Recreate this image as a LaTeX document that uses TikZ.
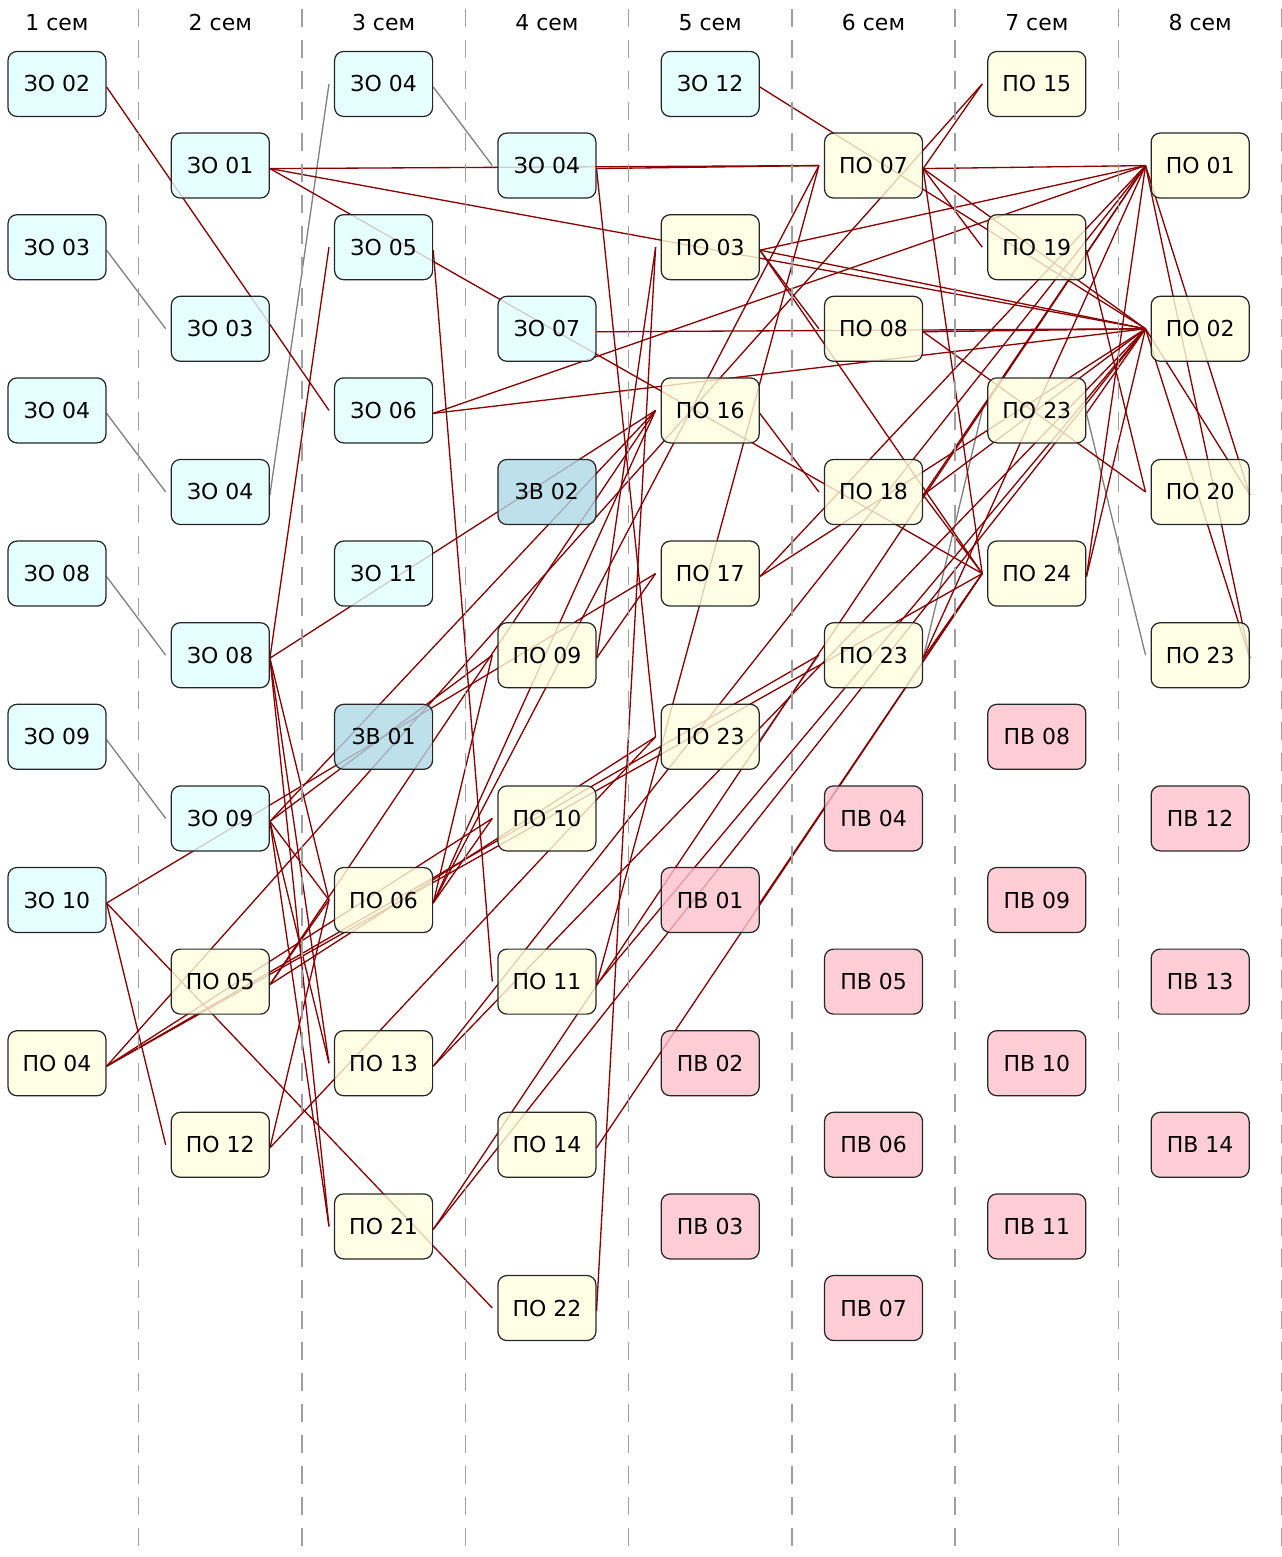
\documentclass[tikz,border=0pt]{standalone}
\usepackage{fontspec}
\setmainfont{DejaVu Sans}
\usepackage{xcolor}
\pgfdeclarelayer{back}
\pgfsetlayers{back,main}
\definecolor{linkred}{HTML}{8B0000}
\definecolor{zofill}{HTML}{E0FFFF}
\definecolor{zvfill}{HTML}{ADD8E6}
\definecolor{pofill}{HTML}{FFFFE0}
\definecolor{pvfill}{HTML}{FFC0CB}
\tikzset{
  course/.style={draw=black!85, line width=0.7pt, rounded corners=0.18cm,
    minimum width=1.96cm, minimum height=1.30cm, inner sep=0pt,
    fill opacity=0.8, text opacity=1, font=\fontsize{12.5}{15}\selectfont},
  zo/.style={course, fill=zofill},
  zv/.style={course, fill=zvfill},
  po/.style={course, fill=pofill},
  pv/.style={course, fill=pvfill},
  link/.style={linkred, line width=0.75pt},
  samelink/.style={gray, line width=0.75pt},
  semline/.style={gray!75, line width=0.8pt, dash pattern=on 0.36cm off 0.26cm},
  semhead/.style={font=\fontsize{12.5}{15}\selectfont},
}
\newcommand{\prereq}[3][link]{\draw[#1] ([yshift=-0.06cm]#2.east) -- ([xshift=-1mm]#3.west);}

\begin{document}
\begin{tikzpicture}[x=3.266cm, y=-1.632cm]
    \useasboundingbox (-0.349,-1.029) rectangle (7.501,18.051);
    % semesters
    \foreach \s in {1,...,8} {
      \node[semhead] at (\s-1,-0.75) {\s\ сем};
      \draw[semline] (\s-0.5,-0.92) -- (\s-0.5,18.051);
    }
    % 1 сем
    \node[zo] (s1zo02) at (0,0) {ЗО 02};
    \node[zo] (s1zo03) at (0,2) {ЗО 03};
    \node[zo] (s1zo04) at (0,4) {ЗО 04};
    \node[zo] (s1zo08) at (0,6) {ЗО 08};
    \node[zo] (s1zo09) at (0,8) {ЗО 09};
    \node[zo] (s1zo10) at (0,10) {ЗО 10};
    \node[po] (s1po04) at (0,12) {ПО 04};
    % 2 сем
    \node[zo] (s2zo01) at (1,1) {ЗО 01};
    \node[zo] (s2zo03) at (1,3) {ЗО 03};
    \node[zo] (s2zo04) at (1,5) {ЗО 04};
    \node[zo] (s2zo08) at (1,7) {ЗО 08};
    \node[zo] (s2zo09) at (1,9) {ЗО 09};
    \node[po] (s2po05) at (1,11) {ПО 05};
    \node[po] (s2po12) at (1,13) {ПО 12};
    % 3 сем
    \node[zo] (s3zo04) at (2,0) {ЗО 04};
    \node[zo] (s3zo05) at (2,2) {ЗО 05};
    \node[zo] (s3zo06) at (2,4) {ЗО 06};
    \node[zo] (s3zo11) at (2,6) {ЗО 11};
    \node[zv] (s3zv01) at (2,8) {ЗВ 01};
    \node[po] (s3po06) at (2,10) {ПО 06};
    \node[po] (s3po13) at (2,12) {ПО 13};
    \node[po] (s3po21) at (2,14) {ПО 21};
    % 4 сем
    \node[zo] (s4zo04) at (3,1) {ЗО 04};
    \node[zo] (s4zo07) at (3,3) {ЗО 07};
    \node[zv] (s4zv02) at (3,5) {ЗВ 02};
    \node[po] (s4po09) at (3,7) {ПО 09};
    \node[po] (s4po10) at (3,9) {ПО 10};
    \node[po] (s4po11) at (3,11) {ПО 11};
    \node[po] (s4po14) at (3,13) {ПО 14};
    \node[po] (s4po22) at (3,15) {ПО 22};
    % 5 сем
    \node[zo] (s5zo12) at (4,0) {ЗО 12};
    \node[po] (s5po03) at (4,2) {ПО 03};
    \node[po] (s5po16) at (4,4) {ПО 16};
    \node[po] (s5po17) at (4,6) {ПО 17};
    \node[po] (s5po23) at (4,8) {ПО 23};
    \node[pv] (s5pv01) at (4,10) {ПВ 01};
    \node[pv] (s5pv02) at (4,12) {ПВ 02};
    \node[pv] (s5pv03) at (4,14) {ПВ 03};
    % 6 сем
    \node[po] (s6po07) at (5,1) {ПО 07};
    \node[po] (s6po08) at (5,3) {ПО 08};
    \node[po] (s6po18) at (5,5) {ПО 18};
    \node[po] (s6po23) at (5,7) {ПО 23};
    \node[pv] (s6pv04) at (5,9) {ПВ 04};
    \node[pv] (s6pv05) at (5,11) {ПВ 05};
    \node[pv] (s6pv06) at (5,13) {ПВ 06};
    \node[pv] (s6pv07) at (5,15) {ПВ 07};
    % 7 сем
    \node[po] (s7po15) at (6,0) {ПО 15};
    \node[po] (s7po19) at (6,2) {ПО 19};
    \node[po] (s7po23) at (6,4) {ПО 23};
    \node[po] (s7po24) at (6,6) {ПО 24};
    \node[pv] (s7pv08) at (6,8) {ПВ 08};
    \node[pv] (s7pv09) at (6,10) {ПВ 09};
    \node[pv] (s7pv10) at (6,12) {ПВ 10};
    \node[pv] (s7pv11) at (6,14) {ПВ 11};
    % 8 сем
    \node[po] (s8po01) at (7,1) {ПО 01};
    \node[po] (s8po02) at (7,3) {ПО 02};
    \node[po] (s8po20) at (7,5) {ПО 20};
    \node[po] (s8po23) at (7,7) {ПО 23};
    \node[pv] (s8pv12) at (7,9) {ПВ 12};
    \node[pv] (s8pv13) at (7,11) {ПВ 13};
    \node[pv] (s8pv14) at (7,13) {ПВ 14};

    \begin{pgfonlayer}{back}
    % same course, next semester
    \prereq[samelink]{s1zo03}{s2zo03}
    \prereq[samelink]{s1zo04}{s2zo04}
    \prereq[samelink]{s1zo08}{s2zo08}
    \prereq[samelink]{s1zo09}{s2zo09}
    \prereq[samelink]{s2zo04}{s3zo04}
    \prereq[samelink]{s3zo04}{s4zo04}
    \prereq[samelink]{s5po23}{s6po23}
    \prereq[samelink]{s6po23}{s7po23}
    \prereq[samelink]{s7po23}{s8po23}
    % prerequisites
    \prereq{s1zo02}{s3zo06}
    \prereq{s1zo10}{s2po12}
    \prereq{s1zo10}{s5po17}
    \prereq{s1zo10}{s4po22}
    \prereq{s1po04}{s7po15}
    \prereq{s1po04}{s4po10}
    \prereq{s1po04}{s6po23}
    \prereq{s1po04}{s7po24}
    \prereq{s2zo01}{s6po07}
    \prereq{s2zo01}{s8po02}
    \prereq{s2zo01}{s7po24}
    \prereq{s2zo08}{s3zo05}
    \prereq{s2zo08}{s5po16}
    \prereq{s2zo08}{s3po06}
    \prereq{s2zo08}{s3po13}
    \prereq{s2zo08}{s3po21}
    \prereq{s2zo09}{s5po16}
    \prereq{s2zo09}{s4po09}
    \prereq{s2zo09}{s3po06}
    \prereq{s2zo09}{s3po13}
    \prereq{s2zo09}{s3po21}
    \prereq{s2po05}{s3po06}
    \prereq{s2po05}{s5po16}
    \prereq{s2po05}{s5po23}
    \prereq{s2po12}{s3po06}
    \prereq{s2po12}{s5po23}
    \prereq{s3zo05}{s4po11}
    \prereq{s3zo06}{s8po01}
    \prereq{s3zo06}{s8po02}
    \prereq{s3po06}{s4po09}
    \prereq{s3po06}{s4po10}
    \prereq{s3po06}{s6po07}
    \prereq{s3po06}{s5po16}
    \prereq{s3po13}{s8po01}
    \prereq{s3po13}{s8po02}
    \prereq{s3po21}{s8po01}
    \prereq{s3po21}{s8po02}
    \prereq{s4zo04}{s6po07}
    \prereq{s4zo04}{s5po23}
    \prereq{s4zo07}{s8po02}
    \prereq{s4po09}{s5po17}
    \prereq{s4po09}{s5po03}
    \prereq{s4po11}{s6po07}
    \prereq{s4po11}{s8po02}
    \prereq{s4po14}{s7po24}
    \prereq{s4po22}{s5po03}
    \prereq{s5zo12}{s8po02}
    \prereq{s5po03}{s8po01}
    \prereq{s5po03}{s8po02}
    \prereq{s5po03}{s6po08}
    \prereq{s5po03}{s7po24}
    \prereq{s5po16}{s6po18}
    \prereq{s5po17}{s8po01}
    \prereq{s5po17}{s8po02}
    \prereq{s5pv01}{s7po24}
    \prereq{s6po07}{s8po01}
    \prereq{s6po07}{s7po15}
    \prereq{s6po07}{s7po19}
    \prereq{s6po07}{s7po24}
    \prereq{s6po07}{s8po02}
    \prereq{s6po08}{s8po02}
    \prereq{s6po08}{s8po20}
    \prereq{s6po18}{s8po01}
    \prereq{s6po18}{s8po02}
    \prereq{s6po18}{s7po24}
    \prereq{s6po23}{s7po24}
    \prereq{s6po23}{s8po01}
    \prereq{s7po19}{s8po20}
    \prereq{s7po23}{s8po02}
    \prereq{s7po24}{s8po01}
    \prereq{s7po24}{s8po02}
    \prereq{s8po20}{s8po01}
    \prereq{s8po20}{s8po02}
    \prereq{s8po23}{s8po01}
    \prereq{s8po23}{s8po02}
    \end{pgfonlayer}
\end{tikzpicture}
\end{document}
